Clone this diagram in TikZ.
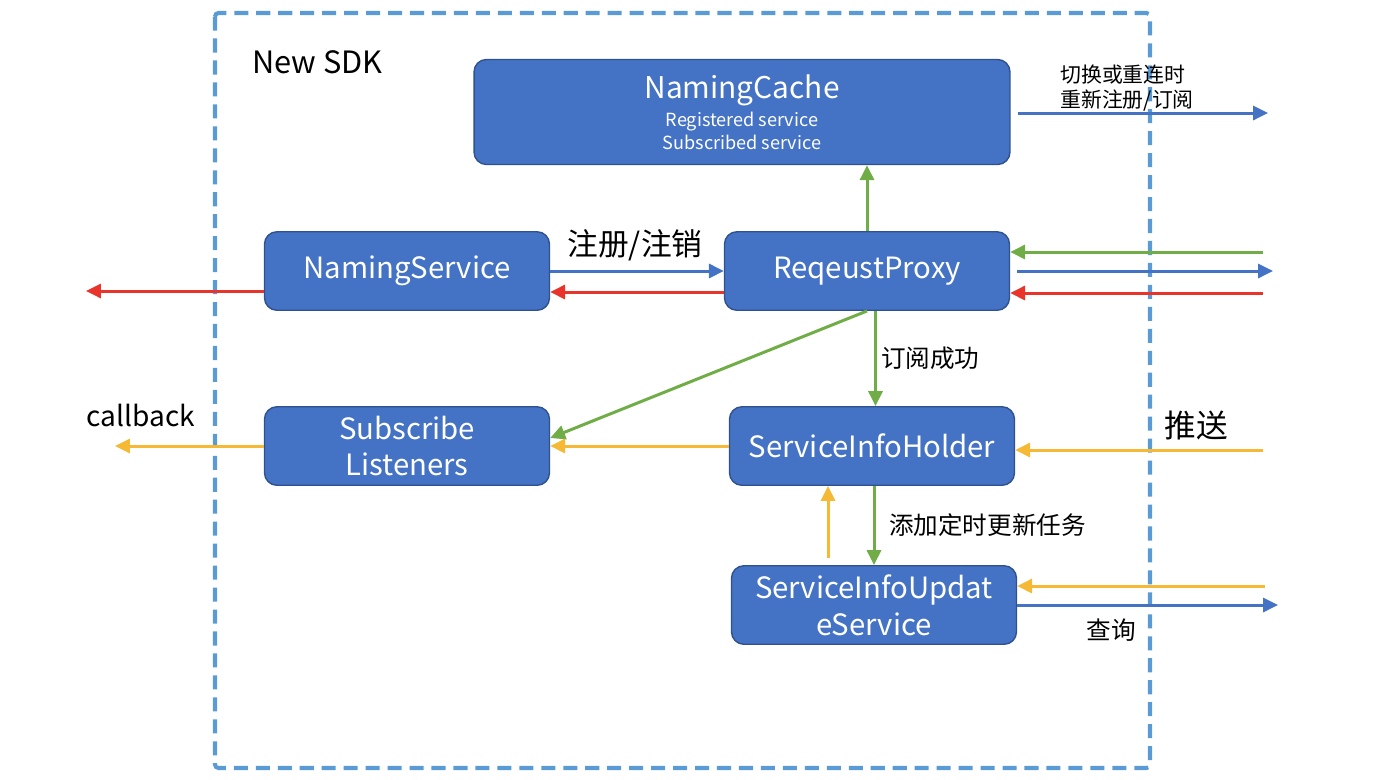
\documentclass[tikz,border=0pt]{standalone}
\usepackage{fontspec}
\setmainfont{Noto Sans CJK SC}
\usetikzlibrary{arrows.meta,positioning,calc}
\definecolor{boxblue}{HTML}{4472C4}
\definecolor{boxedge}{HTML}{2F528F}
\definecolor{frameblue}{HTML}{5B9BD5}
\definecolor{lnblue}{HTML}{4472C4}
\definecolor{lnred}{HTML}{E8342A}
\definecolor{lngreen}{HTML}{70AD47}
\definecolor{lnyellow}{HTML}{F5B935}
\tikzset{
  sdknode/.style={
    rectangle, rounded corners=7pt, draw=boxedge, line width=0.8pt, fill=boxblue,
    text=white, minimum width=5.7cm, minimum height=1.57cm,
    align=center, font=\fontsize{16.7}{21}\selectfont, inner sep=2pt
  },
  sdkarrow/.style={-{Triangle[length=8.5pt,width=8pt]}, line width=1.7pt},
  sdklabel/.style={font=\fontsize{14}{17}\selectfont, inner sep=1pt},
  sdkbig/.style={font=\fontsize{17.5}{20}\selectfont, inner sep=1pt},
}

\begin{document}
\begin{tikzpicture}[x=0.02cm, y=-0.02cm]
  \useasboundingbox (0,0) rectangle (1386,779);
  % frame
  \draw[frameblue, line width=2.3pt, dash pattern=on 8pt off 4.5pt, rounded corners=2pt]
    (215,13) rectangle (1150,768);
  \node (sdk) [sdkbig, anchor=west] at (250,62) {New SDK};

  % boxes
  \node (n1) [sdknode, minimum width=10.72cm, minimum height=2.1cm,
    font=\fontsize{10.3}{13}\selectfont] at (742,112)
    {{\fontsize{17}{21}\selectfont NamingCache}\\[3pt]Registered service\\Subscribed service};
  \node (n2) [sdknode] at (407,271) {NamingService};
  \node (n3) [sdknode] at (867,271) {ReqeustProxy};
  \node (n4) [sdknode] at (407,446) {Subscribe\\Listeners};
  \node (n5) [sdknode] at (872,446) {ServiceInfoHolder};
  \node (n6) [sdknode] at (874,605) {ServiceInfoUpdat\\eService};

  % free ends
  \coordinate (r1) at (1268,113);
  \coordinate (r2) at (1263,252);
  \coordinate (r3) at (1273,271);
  \coordinate (r4) at (1263,293);
  \coordinate (r5) at (1263,450);
  \coordinate (r6) at (1265,586);
  \coordinate (r7) at (1278,605);
  \coordinate (l1) at (86,291);
  \coordinate (l2) at (115,446);

  % connectors
  \draw[sdkarrow, lnblue, shorten <=4pt] (n1.east |- r1) -- (r1);
  \node (t1) [sdklabel, font=\fontsize{11.9}{14}\selectfont, align=left] at (1127,88)
    {切换或重连时\\重新注册/订阅};
  \draw[sdkarrow, lngreen] (n3.north) -- (n3.north |- n1.south);
  \draw[sdkarrow, lnblue] (n2.east) -- (n2.east -| n3.west);
  \node (t2) [sdkbig] at (635,245) {注册/注销};
  \draw[sdkarrow, lnred] ([yshift=-0.42cm]n3.west) -- ([yshift=-0.42cm]n2.east);
  \draw[sdkarrow, lnred] (n2.west |- l1) -- (l1);
  \draw[sdkarrow, lngreen] (r2) -- (n3.east |- r2);
  \draw[sdkarrow, lnblue, shorten <=4pt] (n3.east |- r3) -- (r3);
  \draw[sdkarrow, lnred] (r4) -- (n3.east |- r4);
  \draw[sdkarrow, lngreen] ([xshift=0.17cm]n3.south) -- ([xshift=0.17cm]n3.south |- n5.north);
  \node (t3) [sdklabel, anchor=west] at (879,358) {订阅成功};
  \draw[sdkarrow, lngreen] (n3.south) -- ([yshift=0.16cm]n4.east);
  \draw[sdkarrow, lnyellow] (n5.west) -- (n5.west -| n4.east);
  \draw[sdkarrow, lnyellow] (n4.west) -- (l2);
  \node (t4) [sdkbig, font=\fontsize{16}{19}\selectfont] at (141,415) {callback};
  \draw[sdkarrow, lnyellow] (r5) -- (n5.east |- r5);
  \node (t5) [sdkbig, font=\fontsize{18}{20}\selectfont] at (1196,425) {推送};
  \draw[sdkarrow, lnyellow, shorten <=4pt] ([xshift=-0.92cm]n6.north) -- ([xshift=-0.92cm]n6.north |- n5.south);
  \draw[sdkarrow, lngreen] (n6.north |- n5.south) -- (n6.north);
  \node (t6) [sdklabel, anchor=west] at (887,525) {添加定时更新任务};
  \draw[sdkarrow, lnyellow] (r6) -- (n6.east |- r6);
  \draw[sdkarrow, lnblue] (n6.east |- r7) -- (r7);
  \node (t7) [sdklabel] at (1111,630) {查询};
\end{tikzpicture}
\end{document}
